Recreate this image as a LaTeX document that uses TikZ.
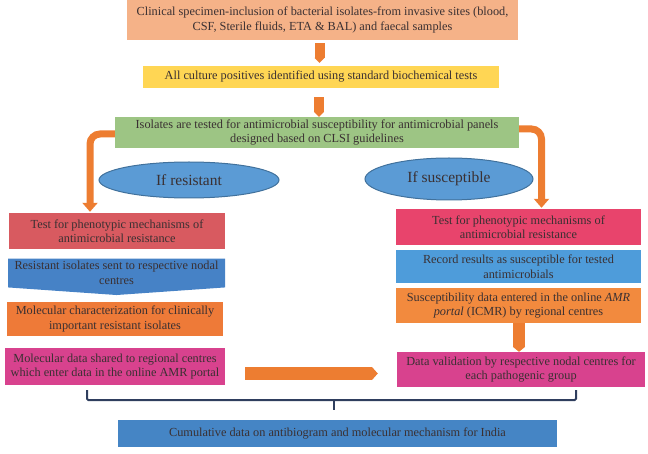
\documentclass[tikz,border=0pt]{standalone}
\usepackage{fontspec}
\setmainfont{Liberation Serif}
\usepackage{tikz}
\usetikzlibrary{arrows.meta,shapes.geometric,shapes.symbols,calc,positioning}

\definecolor{txtgray}{RGB}{58,48,50}
\definecolor{salmon}{RGB}{245,178,136}
\definecolor{yellowbox}{RGB}{255,214,84}
\definecolor{greenbox}{RGB}{157,197,132}
\definecolor{ovalfill}{RGB}{91,155,213}
\definecolor{ovalline}{RGB}{65,113,156}
\definecolor{redbox}{RGB}{216,90,96}
\definecolor{sendblue}{RGB}{70,130,198}
\definecolor{molorange}{RGB}{238,122,56}
\definecolor{magenta}{RGB}{216,66,142}
\definecolor{pinkred}{RGB}{232,68,108}
\definecolor{recblue}{RGB}{78,156,218}
\definecolor{susorange}{RGB}{242,138,62}
\definecolor{cumblue}{RGB}{69,133,197}
\definecolor{arrorange}{RGB}{237,125,49}
\definecolor{bracenavy}{RGB}{47,62,94}

\tikzset{
  box/.style={rectangle, inner sep=0pt, align=center, text=txtgray, font=\fontsize{12.3}{14.5}\selectfont},
  oval/.style={ellipse, draw=ovalline, fill=ovalfill, line width=1pt, inner sep=0pt, text=txtgray, font=\fontsize{15.5}{17}\selectfont},
  blk/.style={draw=arrorange, line width=10pt, -{Triangle[width=10pt,length=5pt]}},
  elbow/.style={draw=arrorange, line width=7pt, rounded corners=10pt, -{Triangle[width=15pt,length=9pt]}},
  brace/.style={draw=bracenavy, line width=2pt, rounded corners=1.5pt}
}

\begin{document}
\begin{tikzpicture}[x=1pt,y=-1pt]
\useasboundingbox (0,0) rectangle (648,454);
\node[box, fill=salmon, minimum width=391pt, minimum height=40pt] (spec) at (322.5,20) {Clinical specimen-inclusion of bacterial isolates-from invasive sites (blood,\\ CSF, Sterile fluids, ETA \& BAL) and faecal samples};
\node[box, fill=yellowbox, minimum width=356pt, minimum height=22pt] (cult) at (321,77) {All culture positives identified using standard biochemical tests};
\node[box, fill=greenbox, minimum width=404pt, minimum height=31pt] (ast) at (317,132.5) {Isolates are tested for antimicrobial susceptibility for antimicrobial panels\\ designed based on CLSI guidelines};
\node[oval, minimum width=180pt, minimum height=36pt] (res) at (189,180) {If resistant};
\node[oval, minimum width=168pt, minimum height=42pt] (sus) at (449,179) {If susceptible};
\node[box, fill=redbox, minimum width=216pt, minimum height=36pt] (pheL) at (117,231) {Test for phenotypic mechanisms of\\ antimicrobial resistance};
\node[box, signal, signal to=south, signal from=nowhere, signal pointer angle=172, fill=sendblue, minimum width=217pt, minimum height=36pt] (sendL) at (116.5,273) {Resistant isolates sent to respective nodal\\ centres};
\node[box, fill=molorange, minimum width=216pt, minimum height=34pt] (molL) at (115,319) {Molecular characterization for clinically\\ important resistant isolates};
\node[box, fill=magenta, minimum width=220pt, minimum height=37pt] (dataL) at (115,366.5) {Molecular data shared to regional centres\\ which enter data in the online AMR portal};
\node[box, fill=pinkred, minimum width=245pt, minimum height=36pt] (pheR) at (518.5,227) {Test for phenotypic mechanisms of\\ antimicrobial resistance};
\node[box, fill=recblue, minimum width=245pt, minimum height=33pt] (recR) at (518.5,266.5) {Record results as susceptible for tested\\ antimicrobials};
\node[box, fill=susorange, minimum width=245pt, minimum height=35pt] (susR) at (518.5,305.5) {Susceptibility data entered in the online \textit{AMR}\\ \textit{portal} (ICMR) by regional centres};
\node[box, fill=magenta, minimum width=248pt, minimum height=35pt] (valR) at (521,369.5) {Data validation by respective nodal centres for\\ each pathogenic group};
\node[box, fill=cumblue, minimum width=439pt, minimum height=27pt] (cum) at (337.5,433.5) {Cumulative data on antibiogram and molecular mechanism for India};
\draw[blk] ($(spec.south)+(-3,3)$) -- ($(spec.south |- cult.north)+(-3,-3)$);
\draw[blk] ($(cult.south)+(-2,9)$) -- ($(cult.south |- ast.north)+(-2,0)$);
\draw[elbow] ($(ast.west)+(0,1.5)$) -| ($(pheL.north)+(-27,-1)$);
\draw[elbow] ($(ast.east)+(0,-3.5)$) -| ($(pheR.north)+(23,-1)$);
\draw[blk, line width=12pt, -{Triangle[width=12pt,length=5pt]}] ($(susR.south)+(0.5,0)$) -- ($(susR.south |- valR.north)+(0.5,0)$);
\draw[blk, line width=13pt, -{Triangle[width=13pt,length=6pt]}] ($(dataL.east)+(20,7)$) -- ($(dataL.east -| valR.west)+(-19,7)$);
\draw[brace] ($(dataL.south)+(-28,5)$) |- ($(valR.south)+(55,13)$) -- ++(0,-10);
\draw[brace] ($(cum.north)+(-3.5,-20)$) -- ($(cum.north)+(-3.5,-10)$);
\end{tikzpicture}
\end{document}
